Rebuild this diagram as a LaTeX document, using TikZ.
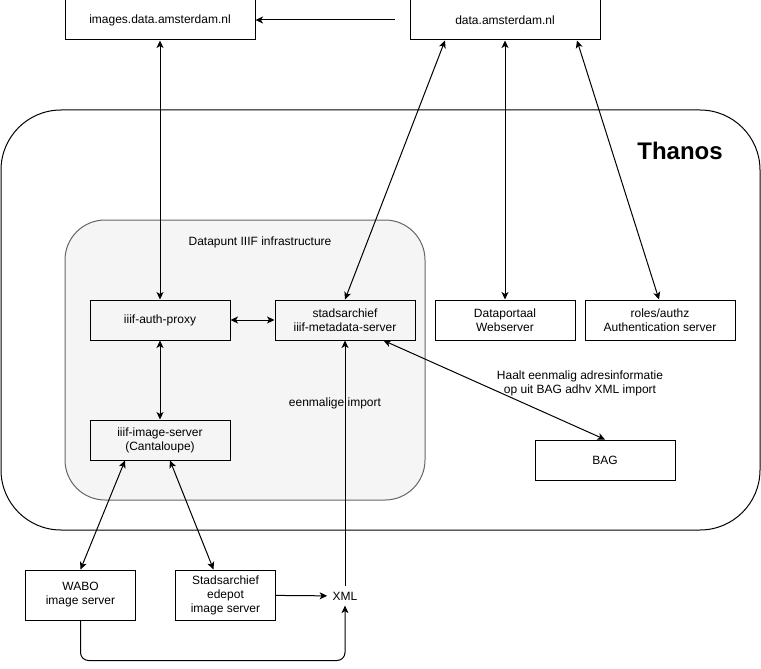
\documentclass[tikz,border=0pt]{standalone}
\usepackage{fontspec}
\setmainfont{Liberation Sans}
\usetikzlibrary{arrows.meta}
\definecolor{dpfill}{HTML}{F5F5F5}
\definecolor{dpline}{HTML}{666666}
\begin{document}
\begin{tikzpicture}[x=1pt,y=-1pt,line width=1pt,
	font=\fontsize{12}{14}\selectfont,
	box/.style={draw,rectangle,align=center,inner sep=0pt,minimum width=#1,minimum height=40pt},
	blk/.tip={Stealth[length=7.5pt,width=7pt,inset=2pt]},
	arr/.style={-blk},
	dbl/.style={blk-blk}]
\useasboundingbox (0,0) rectangle (761,669);
\node [draw,rounded corners=60pt,minimum width=759pt,minimum height=420pt] (thanos) at (380.5,320) {};
\node [draw=dpline,fill=dpfill,rounded corners=40pt,minimum width=360pt,minimum height=280pt] (dp) at (245,360) {};
\node [font=\fontsize{24}{28}\selectfont\bfseries] (thanoslbl) at (680,151) {Thanos};
\node (dplbl) at (260,242) {Datapunt IIIF infrastructure};
\node [box=190pt] (imgdata) at (160,20) {images.data.amsterdam.nl};
\node [box=190pt] (data) at (505,20) {data.amsterdam.nl};
\node [box=140pt] (proxy) at (160,320) {iiif-auth-proxy};
\node [box=140pt] (meta) at (345,320) {stadsarchief\\iiif-metadata-server};
\node [box=140pt] (portaal) at (505,320) {Dataportaal\\Webserver};
\node [box=150pt] (authz) at (660,320) {roles/authz\\Authentication server};
\node [box=140pt] (imgsrv) at (160,440) {iiif-image-server\\(Cantaloupe)};
\node [box=140pt] (bag) at (605,460) {BAG};
\node [box=110pt,minimum height=50pt] (wabo) at (80.5,595) {WABO\\image server};
\node [box=100pt,minimum height=50pt] (edepot) at (225.5,595) {Stadsarchief\\edepot\\image server};
\node [inner sep=5pt] (xml) at (345,596) {XML};
\node (importlbl) at (335,403) {eenmalige import};
\node [align=center] (baglbl) at (580,383) {Haalt eenmalig adresinformatie\\op uit BAG adhv XML import};
\draw [arr,shorten <=15pt] (data.west) -- (imgdata.east);
\draw [dbl] (imgdata) -- (proxy);
\draw [dbl] ([xshift=-60pt]data.south) -- (meta.north);
\draw [dbl] (data) -- (portaal);
\draw [dbl] ([xshift=72pt]data.south) -- ([xshift=-1pt]authz.north);
\draw [dbl] (proxy) -- (meta);
\draw [dbl] (proxy) -- (imgsrv);
\draw [dbl] ([xshift=-32pt]meta.south east) -- (bag.north);
\draw [dbl] ([xshift=-35pt]imgsrv.south) -- (wabo.north);
\draw [dbl] ([xshift=10pt]imgsrv.south) -- ([xshift=-12pt]edepot.north);
\draw [arr] (edepot) -- (xml);
\draw [arr] (xml) -- (meta);
\draw [arr,rounded corners=8pt] (wabo.south) -- ([yshift=-40pt]wabo.south) -| (xml.south);
\end{tikzpicture}
\end{document}
